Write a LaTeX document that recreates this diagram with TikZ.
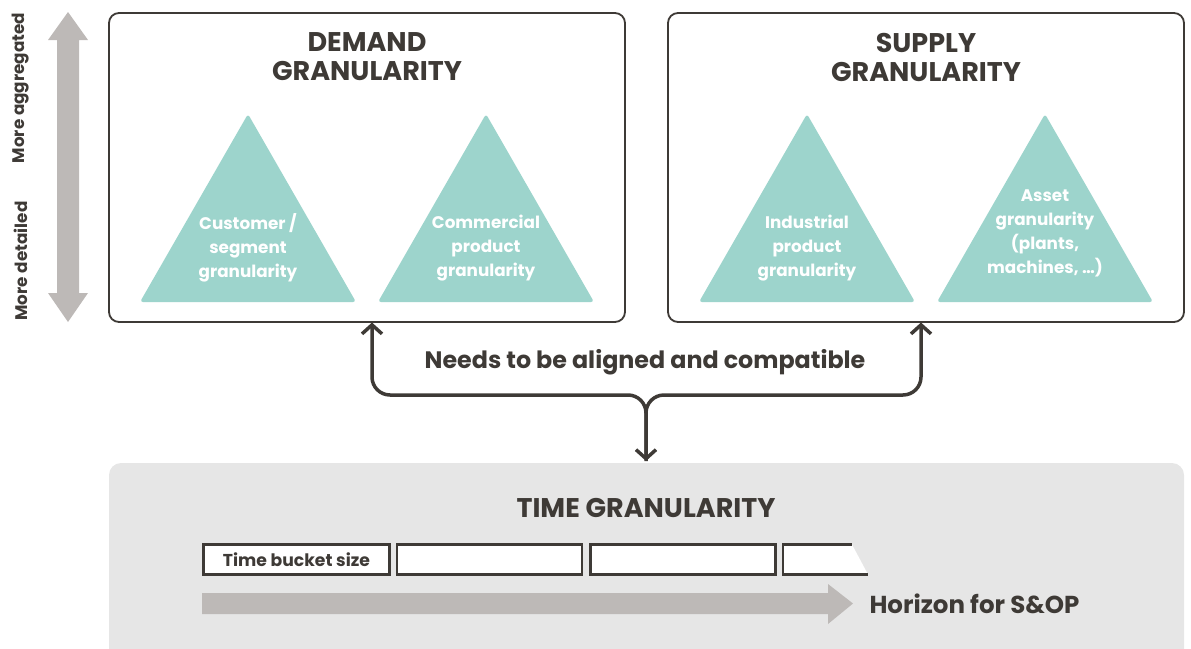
\documentclass[tikz,border=0pt]{standalone}
\usepackage{fontspec}
\setmainfont{Poppins}
\usetikzlibrary{arrows.meta}
\definecolor{ink}{HTML}{3E3A36}
\definecolor{teal}{HTML}{9DD4CC}
\definecolor{stone}{HTML}{BDB9B7}
\definecolor{panel}{HTML}{E6E6E6}
\tikzset{
  frame/.style={draw=ink, line width=1.8pt, rounded corners=10pt, fill=white},
  title/.style={text=ink, font=\bfseries\fontsize{27}{29}\selectfont, align=center},
  tri/.style={fill=teal, rounded corners=3pt},
  tritext/.style={text=white, font=\bfseries\fontsize{16.8}{24}\selectfont, align=center},
  side/.style={text=ink, font=\bfseries\fontsize{16.8}{18}\selectfont, rotate=90},
  bucket/.style={draw=ink, line width=2.2pt, fill=white, minimum height=30pt, inner sep=0pt},
  conn/.style={draw=ink, line width=3.5pt, rounded corners=18pt,
    arrows={-}, >={Straight Barb[length=9pt,width=20pt,line width=3.5pt]}},
}
\begin{document}
\begin{tikzpicture}[x=1pt,y=-1pt]
\useasboundingbox (0,0) rectangle (1191,648);
\clip (0,0) rectangle (1191,648);

% level-of-detail axis on the left
\fill[stone] (68,12) -- (88,40) -- (79,40) -- (79,293) -- (88,293) -- (68,322)
  -- (48,293) -- (57,293) -- (57,40) -- (48,40) -- cycle;
\node[side] (agg) at (21,88) {More aggregated};
\node[side] (det) at (21,261) {More detailed};

% demand and supply frames
\node[frame, minimum width=516pt, minimum height=309pt] (dem) at (367,167.5) {};
\node[frame, minimum width=516pt, minimum height=309pt] (sup) at (926,167.5) {};
\node[title] (demt) at (367,57) {DEMAND\\GRANULARITY};
\node[title] (supt) at (926,57) {SUPPLY\\GRANULARITY};

% granularity pyramids
\foreach \cx in {248,486,807,1045}{
  \fill[tri] (\cx,114) -- (\cx+108,302) -- (\cx-108,302) -- cycle;
}
\node[tritext] (cust) at (248,248) {Customer /\\segment\\granularity};
\node[tritext] (comm) at (486,248) {Commercial\\product\\granularity};
\node[tritext] (ind) at (807,248) {Industrial\\product\\granularity};
\node[tritext] (asset) at (1045,233) {Asset\\granularity\\(plants,\\machines, \ldots)};

% time panel
\node[fill=panel, rounded corners=12pt, minimum width=1075pt, minimum height=210pt] (time) at (646.5,568) {};
\node[title] (timet) at (646,508) {TIME GRANULARITY};

\node[bucket, minimum width=186pt] (b1) at (296.5,559.5) {\bfseries\fontsize{17.2}{18}\selectfont\color{ink}Time bucket size};
\node[bucket, minimum width=185pt] (b2) at (489.5,559.5) {};
\node[bucket, minimum width=185pt] (b3) at (683,559.5) {};
\fill[white] (783,544.5) -- (852,544.5) -- (868,574.5) -- (783,574.5) -- cycle;
\draw[ink, line width=2.2pt] (852,544.5) -- (783,544.5) -- (783,574.5) -- (868,574.5);

\fill[stone] (202,593) -- (828,593) -- (828,584) -- (853,603.5) -- (828,624) -- (828,614) -- (202,614) -- cycle;
\node[anchor=west, text=ink, font=\bfseries\fontsize{24.5}{26}\selectfont] (hor) at (866,604) {Horizon for S\&OP};

% alignment connector
\coordinate (join) at (646,395);
\coordinate (ltip) at (372,322.5);
\coordinate (rtip) at (921,322.5);
\coordinate (dtip) at (646,461);
\draw[conn,<-] (ltip) |- (join) -- (dtip);
\draw[conn,<->] (rtip) |- (join) -- (dtip);
\node[text=ink, font=\bfseries\fontsize{23.8}{26}\selectfont] (need) at (645,362) {Needs to be aligned and compatible};
\end{tikzpicture}
\end{document}
